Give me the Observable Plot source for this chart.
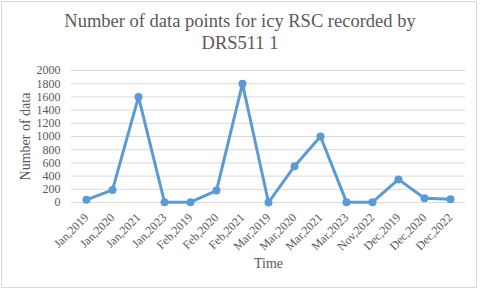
<!DOCTYPE html>
<html><head><meta charset="utf-8">
<script src="https://cdn.jsdelivr.net/npm/d3@7"></script>
<script src="https://cdn.jsdelivr.net/npm/@observablehq/plot@0.6"></script>
<style>
body{margin:0;background:#fff;}
#wrap{position:relative;width:480px;height:289px;overflow:hidden;}
#frame{position:absolute;left:1px;top:1px;width:474px;height:285px;border:1px solid #d9d9d9;box-sizing:content-box;pointer-events:none;}
#title{position:absolute;left:0;top:10px;width:480px;text-align:center;font-family:"Liberation Serif","Times New Roman",serif;font-size:18.5px;line-height:22px;color:#595959;}
#chart{position:absolute;left:0;top:0;}
</style></head>
<body><div id="wrap"><div id="chart"></div><div id="frame"></div>
<div id="title">Number of data points for icy RSC recorded by<br>DRS511 1</div></div>
<script>
const categories = ["Jan,2019","Jan,2020","Jan,2021","Jan,2023","Feb,2019","Feb,2020","Feb,2021","Mar,2019","Mar,2020","Mar,2021","Mar,2023","Nov,2022","Dec,2019","Dec,2020","Dec,2022"];
const counts = [40,190,1600,5,5,180,1800,0,550,1000,5,5,350,65,50];
const yTicks = [0,200,400,600,800,1000,1200,1400,1600,1800,2000];
const data = categories.map((c,i)=>({t:c, n:counts[i]}));
const serif = '"Liberation Serif","Times New Roman",serif';
const chart = Plot.plot({
  width:480, height:289,
  marginTop:70, marginBottom:87, marginLeft:71, marginRight:15,
  style:{fontFamily:serif, fontSize:"11px", color:"#595959", background:"transparent"},
  x:{type:"point", domain:categories, padding:0.5, label:null},
  y:{domain:[0,2000], label:null},
  marks:[
    Plot.gridY(yTicks,{stroke:"#d9d9d9", strokeOpacity:1, strokeWidth:1}),
    Plot.axisY(yTicks,{tickSize:0, tickPadding:11, tickFormat:d=>String(d), fontSize:12, label:null}),
    Plot.axisX(categories,{tickSize:0, tickRotate:-45, tickPadding:13, fontSize:12, label:null}),
    Plot.line(data,{x:"t", y:"n", stroke:"#5b9bd5", strokeWidth:3}),
    Plot.dot(data,{x:"t", y:"n", fill:"#5b9bd5", r:4}),
    Plot.text(["Time"],{frameAnchor:"bottom", dy:65, fontSize:14, fill:"#595959", fontFamily:serif}),
    Plot.text(["Number of data"],{frameAnchor:"left", dx:-46, rotate:-90, textAnchor:"middle", fontSize:14, fill:"#595959", fontFamily:serif})
  ]
});
document.getElementById("chart").appendChild(chart);
</script></body></html>
